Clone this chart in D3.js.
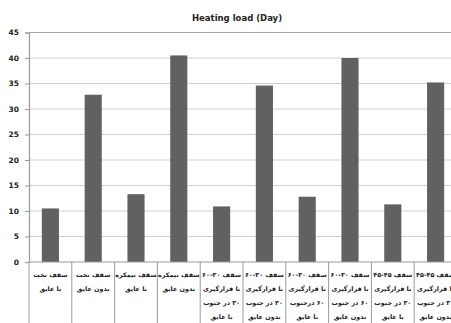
<!DOCTYPE html>
<html><head><meta charset="utf-8">
<script src="https://cdn.jsdelivr.net/npm/d3@7"></script>
<style>body{margin:0;background:#fff}svg{display:block}</style>
</head><body>
<script>
const categories = [
  ["سقف تخت","با عایق"],
  ["سقف تخت","بدون عایق"],
  ["سقف نیمکره","با عایق"],
  ["سقف نیمکره","بدون عایق"],
  ["سقف ۳۰-۶۰","با قرارگیری","۳۰ در جنوب","با عایق"],
  ["سقف ۳۰-۶۰","با قرارگیری","۳۰ در جنوب","بدون عایق"],
  ["سقف ۳۰-۶۰","با قرارگیری","۶۰ درجنوب","با عایق"],
  ["سقف ۳۰-۶۰","با قرارگیری","۶۰ در جنوب","بدون عایق"],
  ["سقف ۴۵-۴۵","با قرارگیری","۳۰ در جنوب","با عایق"],
  ["سقف ۴۵-۴۵","با قرارگیری","۳۰ در جنوب","بدون عایق"]
];
const values = [10.5, 32.8, 13.3, 40.5, 10.9, 34.6, 12.8, 40.0, 11.3, 35.2];
const yTicks = [0,5,10,15,20,25,30,35,40,45];
const title = "Heating load (Day)";

(function(){
const W = 451, H = 323;
const mLeft = 29, mRight = 457, mTop = 32.5, mBottom = 262;
const svg = d3.select("body").append("svg").attr("width", W).attr("height", H);

const ids = categories.map((c,i)=>i);
const x = d3.scaleBand().domain(ids).range([mLeft, mRight]).padding(0);
const y = d3.scaleLinear().domain([0,45]).range([mBottom, mTop]);

// gridlines
svg.append("g").selectAll("line").data(yTicks.filter(t=>t>0)).join("line")
  .attr("x1", mLeft).attr("x2", W).attr("y1", d=>y(d)).attr("y2", d=>y(d))
  .attr("stroke", d=> d===45 ? "#a8a8a8" : "#cfcfcf").attr("stroke-width", 1.2);

// bars
svg.append("g").selectAll("rect").data(values).join("rect")
  .attr("x", (d,i)=>x(i) + x.bandwidth()*0.3)
  .attr("width", x.bandwidth()*0.4)
  .attr("y", d=>y(d)).attr("height", d=>mBottom - y(d))
  .attr("fill", "#616161");

// y axis
const ya = d3.axisLeft(y).tickValues(yTicks).tickSize(4).tickPadding(6);
const gy = svg.append("g").attr("transform", `translate(${mLeft},0)`).call(ya);
gy.select(".domain").attr("stroke", "#9a9a9a").attr("stroke-width", 1.2);
gy.selectAll(".tick line").attr("stroke", "#9a9a9a");
gy.selectAll("text").attr("font-family", "DejaVu Sans, sans-serif").attr("font-size", 7.5)
  .attr("font-weight", "bold").attr("fill", "#222");

// x axis baseline
svg.append("line").attr("x1", mLeft).attr("x2", W).attr("y1", mBottom).attr("y2", mBottom)
  .attr("stroke", "#9a9a9a").attr("stroke-width", 1.2);
// category dividers
const edges = ids.map(i=>x(i)).concat([x(ids.length-1)+x.bandwidth()]);
svg.append("g").selectAll("line").data(edges).join("line")
  .attr("x1", d=>d).attr("x2", d=>d).attr("y1", mBottom).attr("y2", H)
  .attr("stroke", "#9a9a9a").attr("stroke-width", 1);

// category labels
const gl = svg.append("g");
categories.forEach((lines, i) => {
  lines.forEach((ln, j) => {
    gl.append("text")
      .attr("x", x(i) + x.bandwidth()/2).attr("y", 277 + j*14)
      .attr("text-anchor", "middle").attr("direction", "rtl")
      .attr("font-family", "DejaVu Sans, sans-serif").attr("font-size", 6.4)
      .attr("font-weight", "bold").attr("fill", "#222").text(ln);
  });
});

// title
svg.append("text").attr("x", 237).attr("y", 21).attr("text-anchor", "middle")
  .attr("font-family", "DejaVu Sans, sans-serif").attr("font-size", 8.5)
  .attr("font-weight", "bold").attr("fill", "#222").text(title);
})();
</script>
</body></html>
